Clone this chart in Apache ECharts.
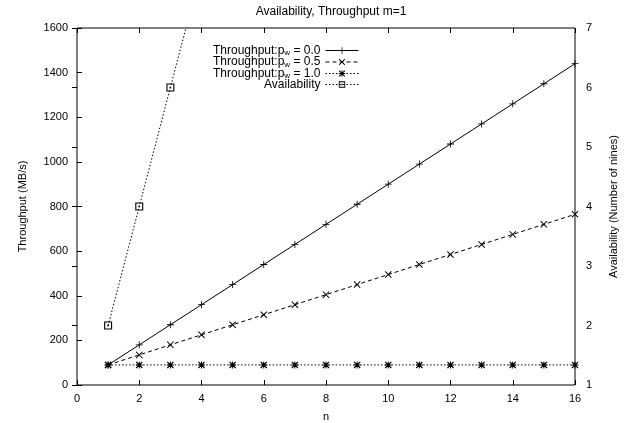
<!DOCTYPE html>
<html><head><meta charset="utf-8">
<script src="https://cdn.jsdelivr.net/npm/echarts@6/dist/echarts.min.js"></script>
<style>html,body{margin:0;padding:0;background:#fff}#c{width:629px;height:423px}</style>
</head><body><div id="c"></div>
<script>
const nValues = [1,2,3,4,5,6,7,8,9,10,11,12,13,14,15,16];
const throughputPw00 = [90,180,270,360,450,540,630,720,810,900,990,1080,1170,1260,1350,1440];
const throughputPw05 = [90,135,180,225,270,315,360,405,450,495,540,585,630,675,720,765];
const throughputPw10 = [90,90,90,90,90,90,90,90,90,90,90,90,90,90,90,90];
const availabilityN = [1,2,3,4];
const availability = [2,4,6,8];

const FONT = '"Liberation Sans", Arial, sans-serif';
const PLUS = 'path://M4.4,0H5.6V10H4.4Z M0,4.4H10V5.6H0Z';
const CROSS = 'path://M0,1L1,0L5,4L9,0L10,1L6,5L10,9L9,10L5,6L1,10L0,9L4,5Z';
const STAR = 'path://M4.3,0H5.7V10H4.3Z M0,4.3H10V5.7H0Z M0,1.2L1.2,0L5,3.8L8.8,0L10,1.2L6.2,5L10,8.8L8.8,10L5,6.2L1.2,10L0,8.8L3.8,5Z';
const BOX = 'path://M0,0H10V10H0Z M1.4,1.4V8.6H8.6V1.4Z M4,4H6V6H4Z';

function pairs(xs, ys){ return xs.map((x,i)=>[x, ys[i]]); }
const names = ['Throughput:pw = 0.0','Throughput:pw = 0.5','Throughput:pw = 1.0','Availability'];

const chart = echarts.init(document.getElementById('c'), null, {renderer:'canvas'});
const axisLabelStyle = {color:'#000', fontSize:11, fontFamily:FONT, formatter:function(v){return String(v);}};
const nameStyle = {color:'#000', fontSize:11, fontFamily:FONT};
const tick = {show:true, inside:true, length:5, lineStyle:{color:'#000', width:1}};
chart.setOption({
  animation:false,
  backgroundColor:'#fff',
  textStyle:{fontFamily:FONT},
  title:{text:'Availability, Throughput m=1', left:326, textAlign:'center', top:1,
    textStyle:{fontSize:12, fontWeight:'normal', color:'#000', fontFamily:FONT}},
  grid:{left:77, right:54, top:28, bottom:38, show:true, borderColor:'#000', borderWidth:1,
    containLabel:false, outerBoundsMode:'none'},
  legend:{
    orient:'vertical', align:'right', right:270, top:44, padding:0, itemWidth:33, itemHeight:8, itemGap:-1.5,
    data:names,
    lineStyle:{width:1},
    formatter:function(name){
      if(name.indexOf('pw')>=0){
        const parts = name.split('pw');
        return '{a|'+parts[0]+'p}{s|w}{a|'+parts[1]+'}';
      }
      return '{a|'+name+'}';
    },
    textStyle:{color:'#000', fontFamily:FONT, fontSize:12, lineHeight:11, rich:{
      a:{fontSize:12, color:'#000', fontFamily:FONT, lineHeight:11},
      s:{fontSize:8, color:'#000', fontFamily:FONT, lineHeight:6, padding:[5,0,0,0]}
    }}
  },
  xAxis:[{
    type:'value', min:0, max:16, interval:2, position:'bottom',
    name:'n', nameLocation:'middle', nameGap:26, nameMoveOverlap:false, nameTextStyle:nameStyle,
    axisLine:{show:false}, splitLine:{show:false}, axisTick:tick,
    axisLabel:Object.assign({margin:8}, axisLabelStyle)
  },{
    type:'value', min:0, max:16, interval:2, position:'top',
    axisLine:{show:false}, splitLine:{show:false}, axisLabel:{show:false}, axisTick:tick
  }],
  yAxis:[{
    type:'value', min:0, max:1600, interval:200, position:'left',
    name:'Throughput (MB/s)', nameLocation:'middle', nameGap:49, nameRotate:90, nameTextStyle:nameStyle,
    axisLine:{show:false}, splitLine:{show:false}, axisTick:tick,
    axisLabel:Object.assign({margin:9}, axisLabelStyle)
  },{
    type:'value', min:1, max:7, interval:1, position:'right',
    name:'Availability (Number of nines)', nameLocation:'middle', nameGap:33, nameRotate:90, nameTextStyle:nameStyle,
    axisLine:{show:false}, splitLine:{show:false}, axisTick:tick,
    axisLabel:Object.assign({margin:11}, axisLabelStyle)
  }],
  series:[
    {name:names[0], type:'line', data:pairs(nValues, throughputPw00), xAxisIndex:0, yAxisIndex:0,
      symbol:PLUS, symbolSize:7, itemStyle:{color:'#000'}, lineStyle:{color:'#000', width:1, type:'solid'}},
    {name:names[1], type:'line', data:pairs(nValues, throughputPw05), xAxisIndex:0, yAxisIndex:0,
      symbol:CROSS, symbolSize:7, itemStyle:{color:'#000'}, lineStyle:{color:'#000', width:1, type:[4,3]}},
    {name:names[2], type:'line', data:pairs(nValues, throughputPw10), xAxisIndex:0, yAxisIndex:0,
      symbol:STAR, symbolSize:7, itemStyle:{color:'#000'}, lineStyle:{color:'#000', width:1, type:[1.5,2]}},
    {name:names[3], type:'line', data:pairs(availabilityN, availability), xAxisIndex:0, yAxisIndex:1,
      symbol:BOX, symbolSize:8, itemStyle:{color:'#000'}, lineStyle:{color:'#000', width:1, type:[1.5,2]}, clip:true}
  ]
});
</script></body></html>
